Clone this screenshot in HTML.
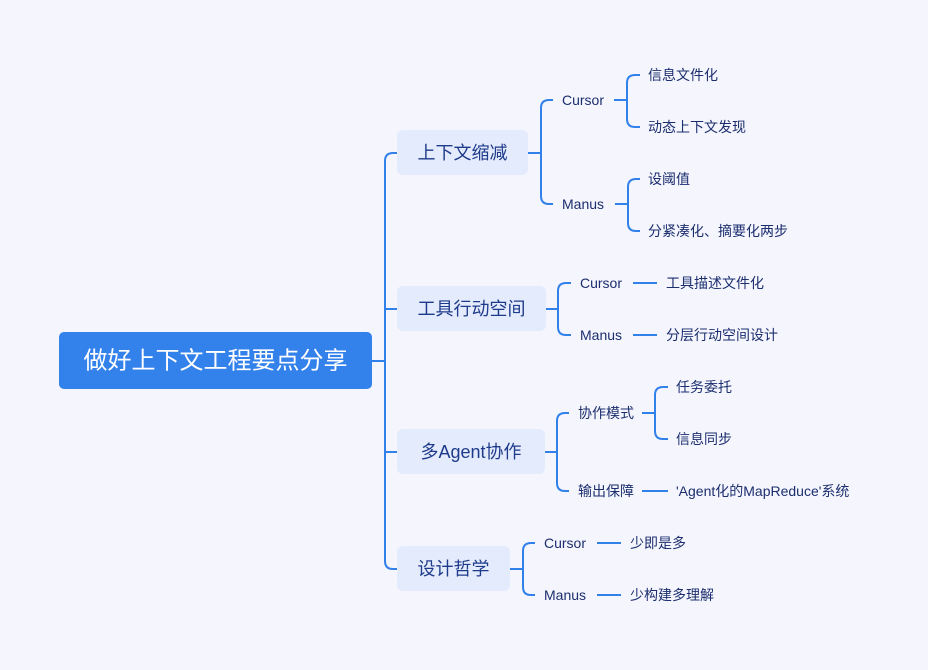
<!DOCTYPE html>
<html><head><meta charset="utf-8"><style>
html,body{margin:0;padding:0;background:#f4f5fd;}
svg{display:block;}
text{font-family:"Liberation Sans","Noto Sans CJK SC",sans-serif;fill:#1c2e6e;dominant-baseline:central;}
.l2{font-size:14px;}
.l1{font-size:18px;fill:#1e3a8a;}
path,line{stroke:#3281ea;stroke-width:2;fill:none;}
</style></head><body>
<svg width="928" height="670" viewBox="0 0 928 670">
<rect x="0" y="0" width="928" height="670" fill="#f4f5fd"/>
<!-- root -->
<rect x="59" y="332" width="313" height="57" rx="5" fill="#3381eb"/>
<text x="215.5" y="361" text-anchor="middle" style="font-size:24px;fill:#fff">做好上下文工程要点分享</text>
<!-- spine -->
<path d="M372 361 H385"/>
<path d="M397 153 H393 Q385 153 385 161 V561 Q385 569 393 569 H397"/>
<path d="M385 309 H397 M385 452 H397"/>
<!-- level1 boxes -->
<rect x="397" y="130" width="131" height="45" rx="6" fill="#e3ebfc"/>
<text class="l1" x="462.5" y="153" text-anchor="middle">上下文缩减</text>
<rect x="397" y="286" width="149" height="45" rx="6" fill="#e3ebfc"/>
<text class="l1" x="471.5" y="309" text-anchor="middle">工具行动空间</text>
<rect x="397" y="429" width="148" height="45" rx="6" fill="#e3ebfc"/>
<text class="l1" x="471" y="452" text-anchor="middle">多Agent协作</text>
<rect x="397" y="546" width="113" height="45" rx="6" fill="#e3ebfc"/>
<text class="l1" x="453.5" y="569" text-anchor="middle">设计哲学</text>
<!-- branch 1 -->
<path d="M528 153 H541"/>
<path d="M553 100 H549 Q541 100 541 108 V196 Q541 204 549 204 H553"/>
<text class="l2" x="562" y="100">Cursor</text>
<text class="l2" x="562" y="204">Manus</text>
<path d="M614 100 H627"/>
<path d="M640 75 H635 Q627 75 627 83 V119 Q627 127 635 127 H640"/>
<text class="l2" x="648" y="75">信息文件化</text>
<text class="l2" x="648" y="127">动态上下文发现</text>
<path d="M615 204 H628"/>
<path d="M640 179 H636 Q628 179 628 187 V223 Q628 231 636 231 H640"/>
<text class="l2" x="648" y="179">设阈值</text>
<text class="l2" x="648" y="231">分紧凑化、摘要化两步</text>
<!-- branch 2 -->
<path d="M546 309 H558"/>
<path d="M571 283 H566 Q558 283 558 291 V327 Q558 335 566 335 H571"/>
<text class="l2" x="580" y="283">Cursor</text>
<text class="l2" x="580" y="335">Manus</text>
<path d="M633 283 H657 M633 335 H657"/>
<text class="l2" x="666" y="283">工具描述文件化</text>
<text class="l2" x="666" y="335">分层行动空间设计</text>
<!-- branch 3 -->
<path d="M545 452 H557"/>
<path d="M569 413 H565 Q557 413 557 421 V483 Q557 491 565 491 H569"/>
<text class="l2" x="578" y="413">协作模式</text>
<text class="l2" x="578" y="491">输出保障</text>
<path d="M642 413 H655"/>
<path d="M668 387 H663 Q655 387 655 395 V431 Q655 439 663 439 H668"/>
<text class="l2" x="676" y="387">任务委托</text>
<text class="l2" x="676" y="439">信息同步</text>
<path d="M642 491 H668"/>
<text class="l2" x="676" y="491">'Agent化的MapReduce'系统</text>
<!-- branch 4 -->
<path d="M510 569 H523"/>
<path d="M535 543 H531 Q523 543 523 551 V587 Q523 595 531 595 H535"/>
<text class="l2" x="544" y="543">Cursor</text>
<text class="l2" x="544" y="595">Manus</text>
<path d="M597 543 H621 M597 595 H621"/>
<text class="l2" x="630" y="543">少即是多</text>
<text class="l2" x="630" y="595">少构建多理解</text>
</svg>
</body></html>
